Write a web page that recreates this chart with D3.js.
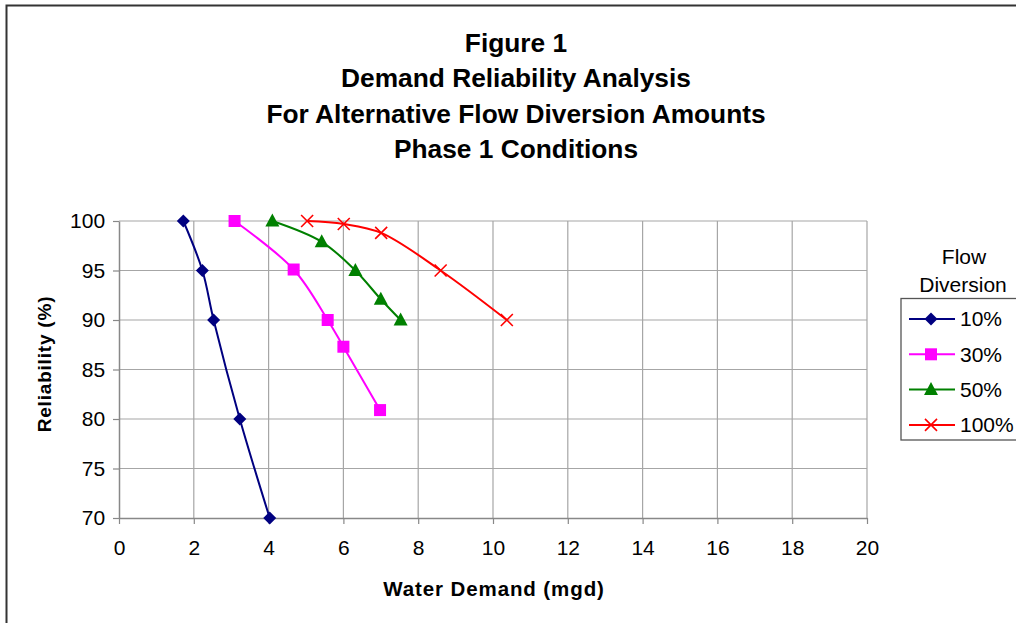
<!DOCTYPE html>
<html>
<head>
<meta charset="utf-8">
<script src="https://cdn.jsdelivr.net/npm/d3@7/dist/d3.min.js"></script>
<style>
  html, body { margin: 0; padding: 0; background: #fff; }
  svg { display: block; }
  text { font-family: "Liberation Sans", Arial, sans-serif; fill: #000; }
</style>
</head>
<body>
<svg id="chart" width="1016" height="623"></svg>
<script>
// Reliability (%) versus water demand (mgd) for each flow diversion amount
const titleLines = ["Figure 1", "Demand Reliability Analysis", "For Alternative Flow Diversion Amounts", "Phase 1 Conditions"];
const seriesNames = ["10%", "30%", "50%", "100%"];

const demand10 = [1.72, 2.23, 2.53, 3.23, 4.03];
const reliab10 = [100, 95, 90, 80, 70];

const demand30 = [3.09, 4.67, 5.58, 6.0, 6.98];
const reliab30 = [100, 95.1, 90, 87.3, 80.9];

const demand50 = [4.1, 5.42, 6.32, 7.0, 7.53];
const reliab50 = [100, 97.9, 95.0, 92.1, 90];

const demand100 = [5.03, 6.01, 7.01, 8.6, 10.37];
const reliab100 = [100, 99.7, 98.8, 95.0, 90];

const xTicks = [0, 2, 4, 6, 8, 10, 12, 14, 16, 18, 20];
const yTicks = [70, 75, 80, 85, 90, 95, 100];

const colors = ["#000080", "#ff00ff", "#008000", "#ff0000"];
const markers = ["diamond", "square", "triangle", "cross"];

const series = [
  { name: seriesNames[0], xs: demand10, ys: reliab10 },
  { name: seriesNames[1], xs: demand30, ys: reliab30 },
  { name: seriesNames[2], xs: demand50, ys: reliab50 },
  { name: seriesNames[3], xs: demand100, ys: reliab100 }
].map((s, i) => ({ ...s, color: colors[i], marker: markers[i],
  pts: s.xs.map((x, j) => ({ x, y: s.ys[j] })) }));

const svg = d3.select("#chart");

// outer chart frame
svg.append("rect").attr("x", 6.5).attr("y", 5.5).attr("width", 1030).attr("height", 640)
  .attr("fill", "none").attr("stroke", "#333").attr("stroke-width", 2);

// title
svg.append("g").selectAll("text").data(titleLines).join("text")
  .attr("x", 516).attr("y", (d, i) => 52 + i * 35.3)
  .attr("text-anchor", "middle").attr("font-weight", "bold").attr("font-size", 26.3)
  .text(d => d);

const x = d3.scaleLinear().domain([0, 20]).range([119, 867]);
const y = d3.scaleLinear().domain([70, 100]).range([518, 221]);

// gridlines
const grid = svg.append("g").attr("stroke", "#a6a6a6").attr("stroke-width", 1.2);
grid.selectAll("line.v").data(xTicks.slice(1)).join("line")
  .attr("x1", d => x(d)).attr("x2", d => x(d)).attr("y1", y(70)).attr("y2", y(100));
grid.selectAll("line.h").data(yTicks.slice(1)).join("line")
  .attr("x1", x(0)).attr("x2", x(20)).attr("y1", d => y(d)).attr("y2", d => y(d));

// axes
const xAxis = svg.append("g").attr("transform", `translate(0,${y(70)})`)
  .call(d3.axisBottom(x).tickValues(xTicks).tickSize(6).tickPadding(16).tickSizeOuter(0));
const yAxis = svg.append("g").attr("transform", `translate(${x(0)},0)`)
  .call(d3.axisLeft(y).tickValues(yTicks).tickSize(6).tickPadding(10).tickSizeOuter(0));
[xAxis, yAxis].forEach(a => {
  a.select(".domain").attr("stroke", "#888").attr("stroke-width", 1.5);
  a.selectAll(".tick line").attr("stroke", "#888").attr("stroke-width", 1.2);
  a.selectAll(".tick text").attr("font-size", 21).attr("font-family", "Liberation Sans, Arial, sans-serif");
});
xAxis.selectAll(".tick text").attr("dy", "0.71em");
yAxis.selectAll(".tick text").attr("dx", "0.1em");

// axis titles
svg.append("text").attr("x", 494).attr("y", 596).attr("text-anchor", "middle")
  .attr("font-weight", "bold").attr("font-size", 20.5).attr("letter-spacing", 0.9)
  .text("Water Demand (mgd)");
svg.append("text").attr("transform", "translate(51,364) rotate(-90)").attr("text-anchor", "middle")
  .attr("font-weight", "bold").attr("font-size", 19).attr("letter-spacing", 0.8)
  .text("Reliability (%)");

// marker drawing
function drawMarker(g, type, color) {
  if (type === "diamond") {
    g.append("path").attr("d", "M0,-6.5L6.5,0L0,6.5L-6.5,0Z").attr("fill", color);
  } else if (type === "square") {
    g.append("rect").attr("x", -6).attr("y", -6).attr("width", 12).attr("height", 12).attr("fill", color);
  } else if (type === "triangle") {
    g.append("path").attr("d", "M0,-7.5L7,5.5L-7,5.5Z").attr("fill", color);
  } else {
    g.append("path").attr("d", "M-6,-6L6,6M-6,6L6,-6")
      .attr("stroke", color).attr("stroke-width", 1.6).attr("fill", "none");
  }
}

// series lines and markers
const line = d3.line().x(d => x(d.x)).y(d => y(d.y)).curve(d3.curveCatmullRom.alpha(0.5));
series.forEach(s => {
  svg.append("path").datum(s.pts).attr("d", line)
    .attr("fill", "none").attr("stroke", s.color).attr("stroke-width", 2);
  svg.append("g").selectAll("g").data(s.pts).join("g")
    .attr("transform", d => `translate(${x(d.x)},${y(d.y)})`)
    .each(function () { drawMarker(d3.select(this), s.marker, s.color); });
});

// legend
svg.append("text").attr("x", 964).attr("y", 264).attr("text-anchor", "middle").attr("font-size", 21).text("Flow");
svg.append("text").attr("x", 963).attr("y", 292).attr("text-anchor", "middle").attr("font-size", 21).text("Diversion");
svg.append("rect").attr("x", 901).attr("y", 298.5).attr("width", 140).attr("height", 141.5)
  .attr("fill", "#fff").attr("stroke", "#555").attr("stroke-width", 1.3);
const leg = svg.append("g").selectAll("g").data(series).join("g")
  .attr("transform", (d, i) => `translate(0,${319 + i * 35.3})`);
leg.append("line").attr("x1", 909).attr("x2", 955).attr("stroke", d => d.color).attr("stroke-width", 2);
leg.each(function (d) {
  const g = d3.select(this).append("g").attr("transform", "translate(931,0)");
  drawMarker(g, d.marker, d.color);
});
leg.append("text").attr("x", 960).attr("y", 0).attr("dy", "0.35em").attr("font-size", 21).text(d => d.name);
</script>
</body>
</html>
